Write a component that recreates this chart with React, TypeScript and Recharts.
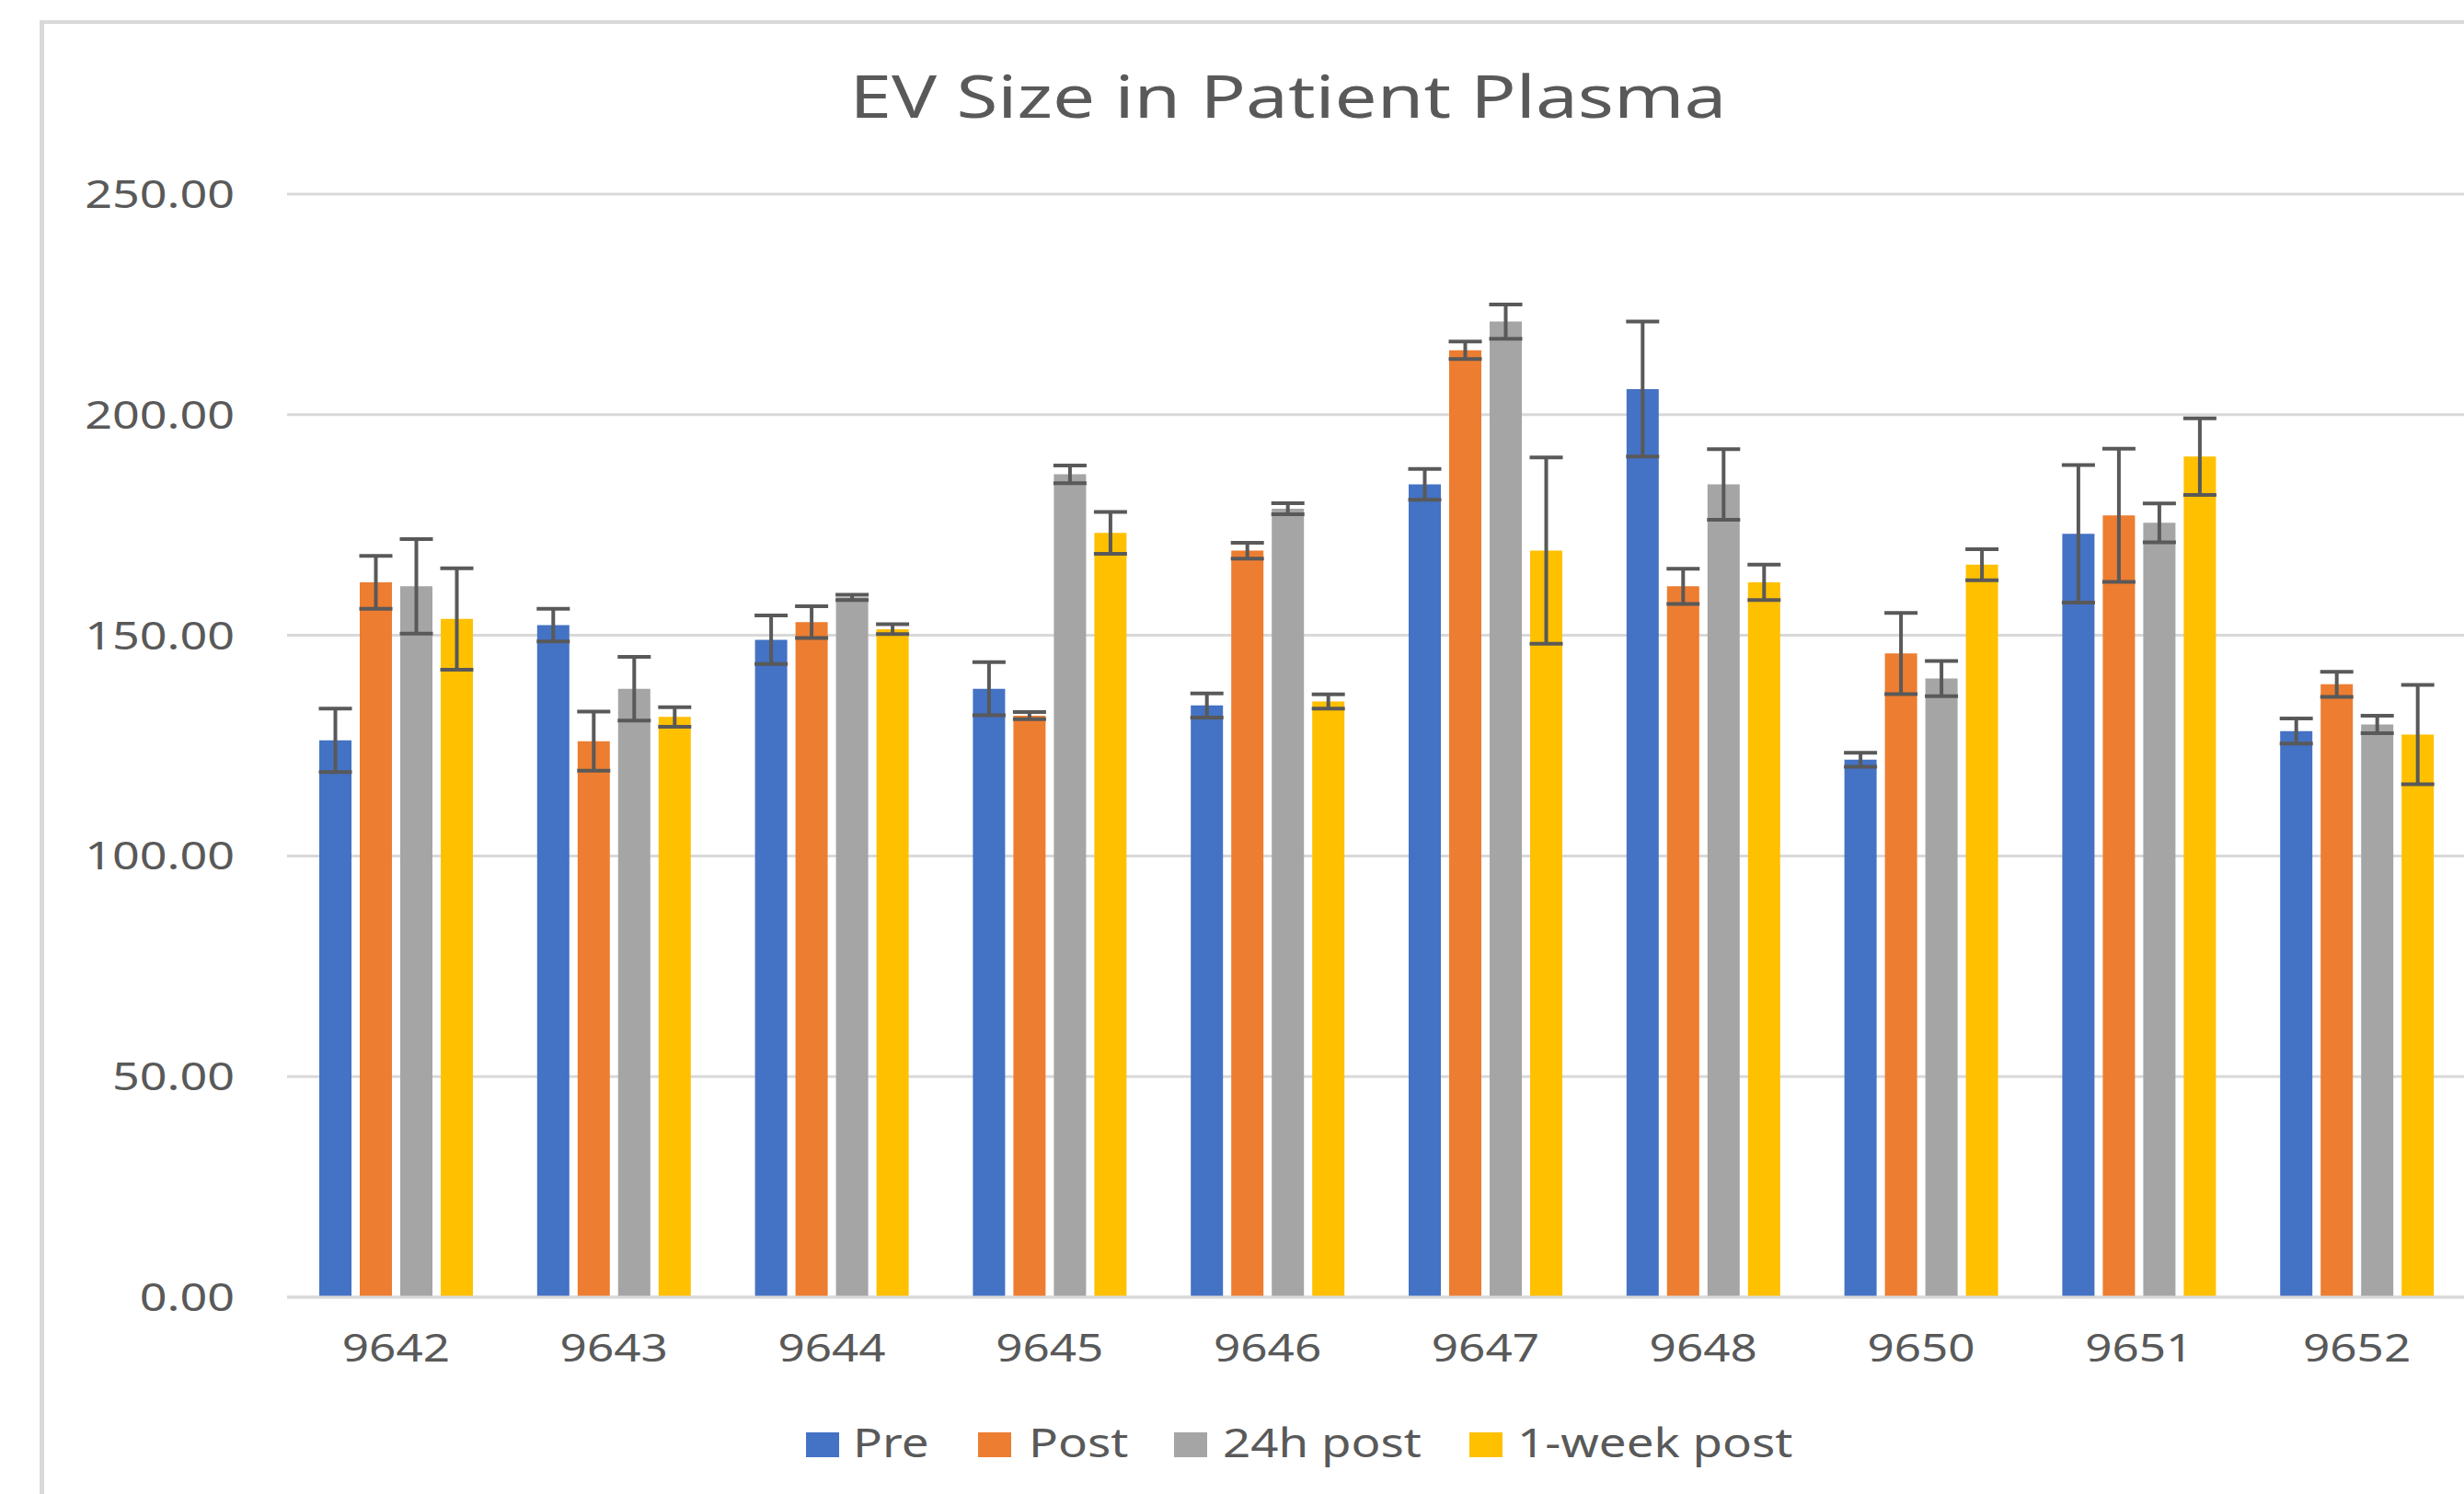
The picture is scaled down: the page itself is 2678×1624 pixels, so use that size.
import React from "react";
import { BarChart, Bar, XAxis, YAxis, CartesianGrid, ErrorBar } from "recharts";

const categories = ["9642", "9643", "9644", "9645", "9646", "9647", "9648", "9650", "9651", "9652"];

const pre = [126.2, 152.3, 149.0, 137.9, 134.1, 184.2, 205.8, 121.8, 173.0, 128.3];
const post = [162.0, 126.0, 153.0, 131.8, 169.2, 214.6, 161.1, 145.9, 177.2, 138.9];
const h24 = [161.1, 137.9, 158.6, 186.5, 178.7, 221.1, 184.2, 140.2, 175.5, 129.8];
const week = [153.7, 131.5, 151.4, 173.2, 135.0, 169.2, 162.0, 166.0, 190.5, 127.5];

const preErr = [7.2, 3.7, 5.5, 6.0, 2.75, 3.5, 15.3, 1.6, 15.6, 2.85];
const postErr = [6.0, 6.7, 3.6, 0.8, 1.8, 2.0, 4.0, 9.2, 15.1, 2.85];
const h24Err = [10.7, 7.2, 0.6, 2.0, 1.25, 3.9, 8.0, 4.0, 4.4, 2.0];
const weekErr = [11.5, 2.2, 1.1, 4.75, 1.6, 21.1, 4.0, 3.5, 8.7, 11.25];

const yTicks = [0, 50, 100, 150, 200, 250];

const series = [
  { key: "pre", err: "preErr", name: "Pre", color: "#4472C4" },
  { key: "post", err: "postErr", name: "Post", color: "#ED7D31" },
  { key: "h24", err: "h24Err", name: "24h post", color: "#A5A5A5" },
  { key: "week", err: "weekErr", name: "1-week post", color: "#FFC000" },
];

const data = categories.map((c, i) => ({
  patient: c,
  pre: pre[i],
  post: post[i],
  h24: h24[i],
  week: week[i],
  preErr: preErr[i],
  postErr: postErr[i],
  h24Err: h24Err[i],
  weekErr: weekErr[i],
}));

const textColor = "#595959";
const gridColor = "#D9D9D9";
const font = "Noto Sans";

function XTick({ x, y, payload }: any) {
  return (
    <text
      transform={`translate(${x},${y + 70}) scale(1.25,1)`}
      textAnchor="middle"
      fill={textColor}
      fontSize={41}
      fontFamily={font}
    >
      {payload.value}
    </text>
  );
}

function YTick({ x, y, payload }: any) {
  return (
    <text
      transform={`translate(${x - 57},${y + 15}) scale(1.27,1)`}
      textAnchor="end"
      fill={textColor}
      fontSize={41}
      fontFamily={font}
    >
      {Number(payload.value).toFixed(2)}
    </text>
  );
}

const legendPos = [
  { sq: 876, tx: 927 },
  { sq: 1063, tx: 1118 },
  { sq: 1276, tx: 1329 },
  { sq: 1597, tx: 1649 },
];

export default function App() {
  return (
    <div
      style={{
        position: "absolute",
        left: 0,
        top: 0,
        width: 2678,
        height: 1624,
        overflow: "hidden",
        background: "#fff",
      }}
    >
      <div
        style={{
          position: "absolute",
          left: 43,
          top: 22,
          width: 3000,
          height: 3000,
          borderLeft: `5px solid ${gridColor}`,
          borderTop: `4px solid ${gridColor}`,
        }}
      />
      <div style={{ position: "absolute", left: 0, top: 0 }}>
        <BarChart
          width={2680}
          height={1510}
          data={data}
          margin={{ top: 211, right: 0, left: 0, bottom: 0 }}
          barGap={9}
          barSize={35}
        >
          <CartesianGrid vertical={false} stroke={gridColor} strokeWidth={3} />
          <XAxis
            dataKey="patient"
            height={100}
            tick={<XTick />}
            tickLine={false}
            tickSize={0}
            tickMargin={0}
            axisLine={{ stroke: gridColor, strokeWidth: 3 }}
            interval={0}
          />
          <YAxis
            width={312}
            domain={[0, 250]}
            ticks={yTicks}
            tick={<YTick />}
            tickLine={false}
            tickSize={0}
            tickMargin={0}
            axisLine={false}
          />
          {series.map((s) => (
            <Bar key={s.key} dataKey={s.key} name={s.name} fill={s.color} isAnimationActive={false}>
              <ErrorBar dataKey={s.err} width={18} stroke="#595959" strokeWidth={4} direction="y" />
            </Bar>
          ))}
        </BarChart>
      </div>
      <svg
        width={2678}
        height={1624}
        style={{ position: "absolute", left: 0, top: 0, pointerEvents: "none" }}
      >
        <text
          transform="translate(1400,128) scale(1.3,1)"
          textAnchor="middle"
          fill={textColor}
          fontSize={63}
          fontFamily={font}
        >
          EV Size in Patient Plasma
        </text>
        {series.map((s, i) => (
          <g key={s.key}>
            <rect x={legendPos[i].sq} y={1557} width={36} height={27} fill={s.color} />
            <text
              transform={`translate(${legendPos[i].tx},1584) scale(1.23,1)`}
              fill={textColor}
              fontSize={43}
              fontFamily={font}
            >
              {s.name}
            </text>
          </g>
        ))}
      </svg>
    </div>
  );
}
